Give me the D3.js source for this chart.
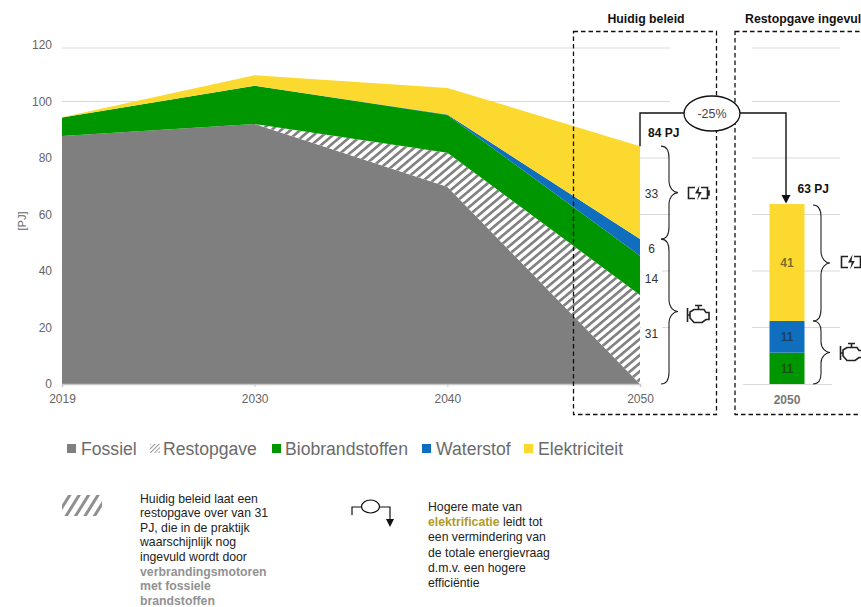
<!DOCTYPE html>
<html><head><meta charset="utf-8">
<script src="https://cdn.jsdelivr.net/npm/d3@7/dist/d3.min.js"></script>
<style>
html,body{margin:0;padding:0;background:#fff;overflow:hidden}
svg{display:block}
text{font-family:"Liberation Sans",Arial,sans-serif}
</style></head><body>
<svg id="c" width="861" height="607"></svg>
<script>
// ---- data ----
const years = ["2019","2030","2040","2050"];
const fossiel = [87.8,92,69.8,0];
const restopgave = [0,0,12.1,31.5];
const biobrandstoffen = [6.5,13.6,13.3,13.9];
const waterstof = [0,0,0.2,5.9];
const elektriciteit = [0.1,3.7,9.4,32.9];
const seriesNames = ["Fossiel","Restopgave","Biobrandstoffen","Waterstof","Elektriciteit"];
const seriesColors = ["#7f7f7f","url(#hatch)","#009600","#0f6fbe","#fbd92f"];
const bar2050 = [11.1,11.2,41.4];
const barNames = ["Biobrandstoffen","Waterstof","Elektriciteit"];
const barLabels = ["11","11","41"];
const yTicks = [0,20,40,60,80,100,120];
const sideLabels = ["33","6","14","31"];
const sideLabelAt = [67.5,48,37.5,18];
const note1 = ["Huidig beleid laat een","restopgave over van 31","PJ, die in de praktijk","waarschijnlijk nog","ingevuld wordt door"];
const note1Bold = ["verbrandingsmotoren","met fossiele","brandstoffen"];
const note2 = ["Hogere mate van",null,"een vermindering van","de totale energievraag","d.m.v. een hogere","efficiëntie"];
const legendX = [67,150,272,422,524];
const legendTextX = [81,163,285,436,538];

// ---- scales ----
const svg = d3.select("#c");
const x = d3.scalePoint().domain(years).range([62,640]);
const y = d3.scaleLinear().domain([0,120]).range([384,45]);
const gridY = d3.scaleLinear().domain([0,100,120]).range([384,101.5,48]);
const xBar = d3.scaleBand().domain(["2050"]).range([769.5,804.5]);
const colorOf = d3.scaleOrdinal().domain(seriesNames).range(seriesColors);

const defs = svg.append("defs");
function hatch(id,period,stroke,angle,col){
  const p = defs.append("pattern").attr("id",id).attr("patternUnits","userSpaceOnUse")
    .attr("width",period).attr("height",period).attr("patternTransform",`rotate(${angle})`);
  p.append("rect").attr("width",period).attr("height",period).attr("fill","#fff");
  p.append("rect").attr("width",stroke).attr("height",period).attr("fill",col);
}
hatch("hatch",6.2,2.6,50,"#808080");
hatch("hatchNote",8,3,32,"#8f8f8f");
hatch("hatchLeg",3,1,45,"#9a9a9a");

// ---- grid ----
const gridCol = "#d9d9d9";
svg.append("g").selectAll("line").data(yTicks.filter(d=>d>0)).join("line")
  .attr("x1",62).attr("x2",670).attr("y1",d=>gridY(d)).attr("y2",d=>gridY(d))
  .attr("stroke",gridCol).attr("stroke-width",1);
svg.append("g").selectAll("line").data(yTicks.filter(d=>d>0)).join("line")
  .attr("x1",752).attr("x2",840).attr("y1",d=>gridY(d)).attr("y2",d=>gridY(d))
  .attr("stroke",gridCol).attr("stroke-width",1);

// ---- stacked areas ----
const rows = years.map((yr,i)=>({year:yr,Fossiel:fossiel[i],Restopgave:restopgave[i],Biobrandstoffen:biobrandstoffen[i],Waterstof:waterstof[i],Elektriciteit:elektriciteit[i]}));
const stacked = d3.stack().keys(seriesNames)(rows);
const area = d3.area().x(d=>x(d.data.year)).y0(d=>y(d[0])).y1(d=>y(d[1]));
svg.append("g").selectAll("path").data(stacked).join("path")
  .attr("d",area).attr("fill",d=>colorOf(d.key));

// ---- axes ----
const ax = svg.append("g").attr("transform","translate(0,384)")
  .call(d3.axisBottom(x).tickSize(3).tickPadding(7));
ax.select(".domain").attr("stroke","#c8c8c8").attr("stroke-width",1.5);
ax.selectAll("line").attr("stroke","#c8c8c8");
ax.selectAll("text").attr("fill","#666").style("font-size","12px").style("font-family","Liberation Sans");
const ay = svg.append("g").attr("transform","translate(52,0)")
  .call(d3.axisLeft(y).tickValues(yTicks).tickSize(0).tickPadding(0));
ay.select(".domain").remove();
ay.selectAll("text").attr("fill","#666").style("font-size","12px").style("font-family","Liberation Sans");
svg.append("text").attr("transform","translate(26,221) rotate(-90)").attr("text-anchor","middle")
  .attr("font-size",11).attr("fill","#666").text("[PJ]");

// ---- bar 2050 ----
const barRows = [Object.fromEntries(barNames.map((k,i)=>[k,bar2050[i]]))];
const barStack = d3.stack().keys(barNames)(barRows);
const barG = svg.append("g");
barG.selectAll("rect").data(barStack).join("rect")
  .attr("x",xBar("2050")).attr("width",xBar.bandwidth())
  .attr("y",d=>y(d[0][1])).attr("height",d=>y(d[0][0])-y(d[0][1]))
  .attr("fill",d=>colorOf(d.key));
barG.selectAll("text").data(barStack).join("text")
  .attr("x",xBar("2050")+xBar.bandwidth()/2).attr("y",d=>(y(d[0][0])+y(d[0][1]))/2+4.5).attr("text-anchor","middle")
  .attr("font-size",12).attr("font-weight","bold").attr("fill","#222").attr("fill-opacity",.6)
  .text((d,i)=>barLabels[i]);
svg.append("line").attr("x1",743).attr("x2",832).attr("y1",384.5).attr("y2",384.5).attr("stroke",gridCol);
svg.append("text").attr("x",787).attr("y",404).attr("text-anchor","middle").attr("font-size",12)
  .attr("font-weight","bold").attr("fill","#777").text("2050");

// ---- dashed frames ----
const frame = svg.append("g").attr("fill","none").attr("stroke","#111").attr("stroke-width",1.3).attr("stroke-dasharray","4.5 3");
frame.append("rect").attr("x",573.5).attr("y",31.5).attr("width",143).attr("height",383);
frame.append("rect").attr("x",735).attr("y",31.5).attr("width",200).attr("height",383);
svg.append("text").attr("x",646).attr("y",23).attr("text-anchor","middle").attr("font-size",12.3).attr("font-weight","bold").attr("fill","#111").text("Huidig beleid");
svg.append("text").attr("x",745).attr("y",23).attr("font-size",12.3).attr("font-weight","bold").attr("fill","#111").text("Restopgave ingevuld");

// ---- side labels ----
svg.append("g").selectAll("rect").data([sideLabelAt[2],sideLabelAt[3]]).join("rect")
  .attr("x",641).attr("width",21).attr("y",d=>y(d)-8).attr("height",16).attr("fill","#fff");
svg.append("g").selectAll("text").data(sideLabels).join("text")
  .attr("x",651.5).attr("y",(d,i)=>y(sideLabelAt[i])+4.5).attr("text-anchor","middle")
  .attr("font-size",12).attr("fill","#333").text(d=>d);

// ---- connector -25% ----
const total = d3.sum(seriesNames.map(k=>rows[3][k]));
const barTotal = d3.sum(bar2050);
const conn = svg.append("g").attr("fill","none").attr("stroke","#111").attr("stroke-width",1.4);
conn.append("path").attr("d",d3.line()([[640,y(total)],[640,113],[786,113],[786,y(barTotal)-8]]));
svg.append("path").attr("d","M781.5,"+(y(barTotal)-9)+"h9l-4.5,8.5z").attr("fill","#111");
svg.append("ellipse").attr("cx",712).attr("cy",113.5).attr("rx",28).attr("ry",17.5).attr("fill","#fff").attr("stroke","#111").attr("stroke-width",1.3);
svg.append("text").attr("x",712).attr("y",118).attr("text-anchor","middle").attr("font-size",12.5).attr("fill","#444").text("-25%");
svg.append("text").attr("x",648).attr("y",137).attr("font-size",12).attr("font-weight","bold").attr("fill","#111").text("84 PJ");
svg.append("text").attr("x",797.5).attr("y",193).attr("font-size",12).attr("font-weight","bold").attr("fill","#111").text("63 PJ");

// ---- braces ----
function brace(x0,y0,y1){
  const xm=x0+8, xt=x0+17, m=(y0+y1)/2, r=Math.min(12,(y1-y0)/6);
  return `M${x0},${y0}C${x0+5},${y0} ${xm},${y0+4} ${xm},${y0+r}L${xm},${m-r}C${xm},${m-4} ${xt-4},${m} ${xt},${m}C${xt-4},${m} ${xm},${m+4} ${xm},${m+r}L${xm},${y1-r}C${xm},${y1-4} ${x0+5},${y1} ${x0},${y1}`;
}
const bg = svg.append("g").attr("fill","none").attr("stroke","#222").attr("stroke-width",1.1);
const split = y(bar2050[0]+bar2050[1]);
const splitL = y(fossiel[3]+restopgave[3]+biobrandstoffen[3]+waterstof[3]);
bg.append("path").attr("d",brace(661,y(total),splitL));
bg.append("path").attr("d",brace(661,splitL,y(0)));
bg.append("path").attr("d",brace(813,y(barTotal)+1,split));
bg.append("path").attr("d",brace(813,split,y(0)));

// ---- icons ----
function battery(cx,cy){
  const g=svg.append("g").attr("transform",`translate(${cx},${cy})`).attr("fill","none").attr("stroke","#222").attr("stroke-width",1.6);
  g.append("path").attr("d","M-3,-5.5H-9.5V5.5H-3M3,-5.5H9.5V5.5H3");
  g.append("path").attr("d","M9.5,-2H11V2H9.5").attr("fill","#222");
  g.append("path").attr("d","M1.5,-7.5L-3,0.5H0.8L-1,7.5L3.8,-1H0.5Z").attr("fill","#222").attr("stroke","none");
}
function engine(cx,cy){
  const g=svg.append("g").attr("transform",`translate(${cx},${cy})`).attr("fill","none").attr("stroke","#222").attr("stroke-width",1.6);
  g.append("path").attr("d","M-10.5,-7V7M-10.5,0H-8M-8,-3L-4,-5.5H6L8,-2.5H11V4.5H8L4,7.5H-4L-8,3Z");
  g.append("path").attr("d","M-3,-9.5H4M0.5,-9.5V-5.5");
}
battery(698,193); engine(698,315);
battery(851,262); engine(851,353);

// ---- legend ----
const leg = svg.append("g");
leg.selectAll("rect").data(seriesNames).join("rect")
  .attr("x",(d,i)=>legendX[i]).attr("y",444).attr("width",(d,i)=>i==1?10:9).attr("height",9)
  .attr("fill",(d,i)=>i==1?"url(#hatchLeg)":colorOf(d));
leg.selectAll("text").data(seriesNames).join("text")
  .attr("x",(d,i)=>legendTextX[i]).attr("y",454.5).attr("font-size",17.6).attr("fill","#6b6b6b").text(d=>d);

// ---- notes ----
svg.append("rect").attr("x",62).attr("y",495).attr("width",40).attr("height",21).attr("fill","url(#hatchNote)");
const n1 = svg.append("g").attr("font-size",12.25);
n1.selectAll("text.a").data(note1).join("text").attr("class","a")
  .attr("x",140).attr("y",(d,i)=>502.5+i*14.65).attr("fill","#222").text(d=>d);
n1.selectAll("text.b").data(note1Bold).join("text").attr("class","b")
  .attr("x",140).attr("y",(d,i)=>502.5+(i+5)*14.65).attr("fill","#929292").attr("font-weight","bold").text(d=>d);

const lineIcon = svg.append("g").attr("fill","none").attr("stroke","#111").attr("stroke-width",1.2);
lineIcon.append("path").attr("d","M352,515V507H390V520");
lineIcon.append("ellipse").attr("cx",370.5).attr("cy",506.5).attr("rx",9).attr("ry",6.5).attr("fill","#fff");
svg.append("path").attr("d","M386,519h8l-4,8z").attr("fill","#111");

const n2 = svg.append("g").attr("font-size",12.25);
n2.selectAll("text").data(note2).join("text")
  .attr("x",428).attr("y",(d,i)=>511+i*15.2).attr("fill","#222")
  .each(function(d){
    const t=d3.select(this);
    if(d===null){
      t.append("tspan").attr("font-weight","bold").attr("fill","#b09a2a").text("elektrificatie");
      t.append("tspan").text(" leidt tot");
    } else t.text(d);
  });
</script>
</body></html>
